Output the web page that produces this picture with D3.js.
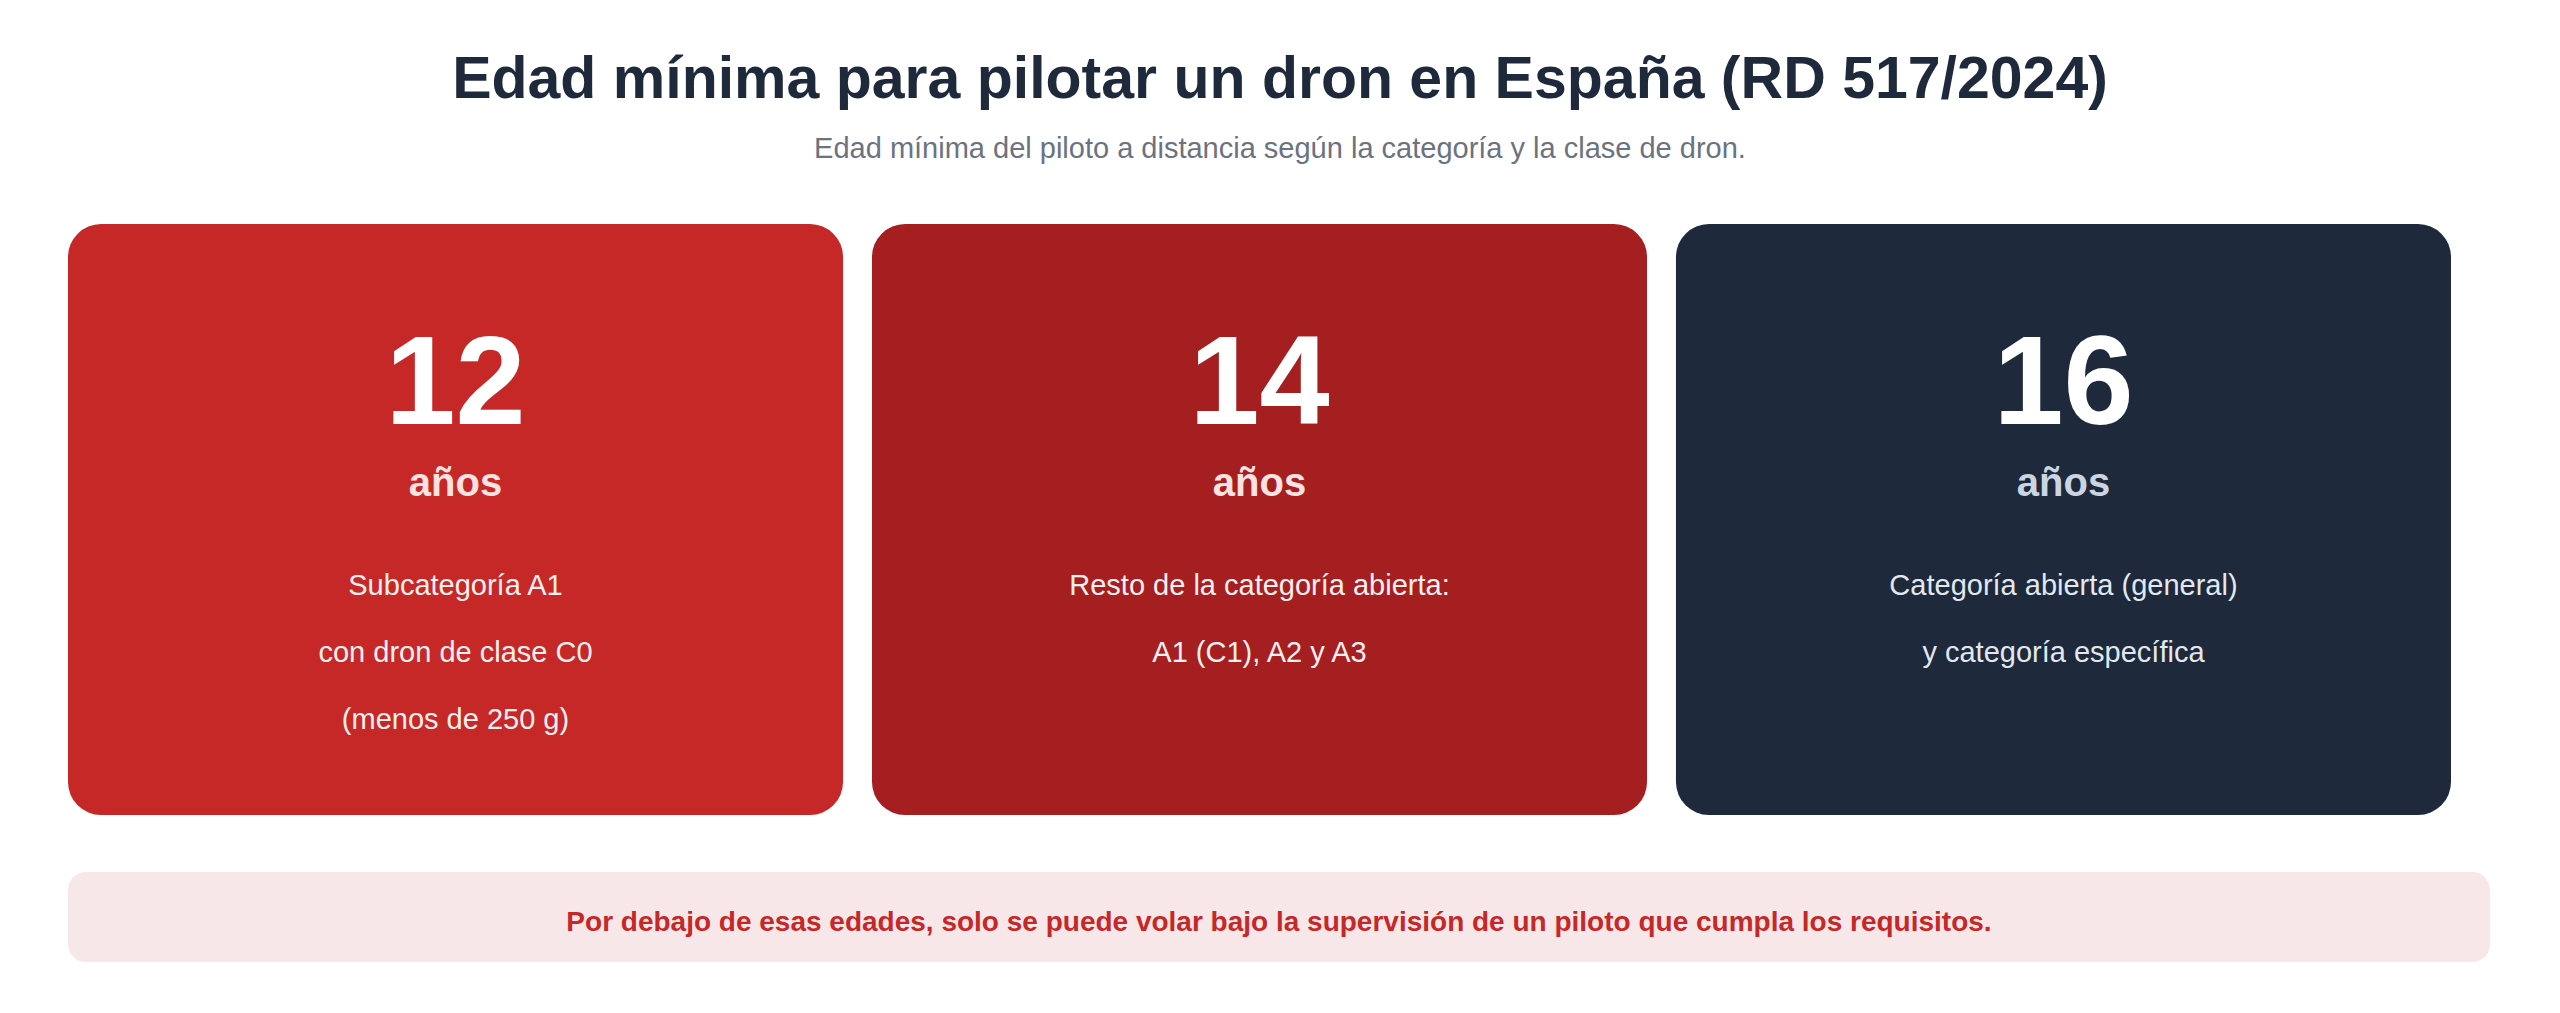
<!DOCTYPE html>
<meta charset="utf-8">
<style>
body { margin: 0; background: #fff; }
text { font-family: "Liberation Sans", Arial, sans-serif; }
</style>
<svg width="2560" height="1013"></svg>
<script src="https://d3js.org/d3.v7.min.js"></script>
<script>
// data
var ages = [12, 14, 16];
var unitLabel = "años";
var descriptions = [
  ["Subcategoría A1", "con dron de clase C0", "(menos de 250 g)"],
  ["Resto de la categoría abierta:", "A1 (C1), A2 y A3"],
  ["Categoría abierta (general)", "y categoría específica"]
];
var cardColors = ["#c62828", "#a51f20", "#1e293b"];
var unitColors = ["#fde2e2", "#fde2e2", "#cbd5e1"];
var title = "Edad mínima para pilotar un dron en España (RD 517/2024)";
var subtitle = "Edad mínima del piloto a distancia según la categoría y la clase de dron.";
var footnote = "Por debajo de esas edades, solo se puede volar bajo la supervisión de un piloto que cumpla los requisitos.";

var svg = d3.select("svg");

svg.append("text").attr("x", 1280).attr("y", 98).attr("text-anchor", "middle")
  .attr("font-size", 59).attr("font-weight", "bold").attr("fill", "#1e293b").text(title);
svg.append("text").attr("x", 1280).attr("y", 158).attr("text-anchor", "middle")
  .attr("font-size", 29).attr("fill", "#6b7280").text(subtitle);

var x = d3.scaleBand().domain(d3.range(ages.length)).range([68, 2451]).paddingInner(0.036);

var cards = svg.selectAll("g.card").data(ages).enter().append("g")
  .attr("class", "card")
  .attr("transform", function(d, i) { return "translate(" + x(i) + ",224)"; });

cards.append("rect")
  .attr("width", x.bandwidth()).attr("height", 591)
  .attr("rx", 33).attr("fill", function(d, i) { return cardColors[i]; });

cards.append("text").attr("x", x.bandwidth() / 2).attr("y", 200)
  .attr("text-anchor", "middle").attr("font-size", 126).attr("font-weight", "bold")
  .attr("fill", "#fff").text(function(d) { return d; });

cards.append("text").attr("x", x.bandwidth() / 2).attr("y", 272)
  .attr("text-anchor", "middle").attr("font-size", 40).attr("font-weight", "bold")
  .attr("fill", function(d, i) { return unitColors[i]; }).text(unitLabel);

cards.each(function(d, i) {
  d3.select(this).selectAll("text.desc").data(descriptions[i]).enter().append("text")
    .attr("class", "desc")
    .attr("x", x.bandwidth() / 2)
    .attr("y", function(t, j) { return 371 + j * 67; })
    .attr("text-anchor", "middle").attr("font-size", 29)
    .attr("fill", i === 2 ? "#e2e8f0" : "#fdf0f0").text(function(t) { return t; });
});

svg.append("rect").attr("x", 68).attr("y", 872).attr("width", 2422).attr("height", 90)
  .attr("rx", 18).attr("fill", "#f8e7e8");
svg.append("text").attr("x", 1279).attr("y", 931).attr("text-anchor", "middle")
  .attr("font-size", 28).attr("font-weight", "bold").attr("fill", "#c62828").text(footnote);
</script>
